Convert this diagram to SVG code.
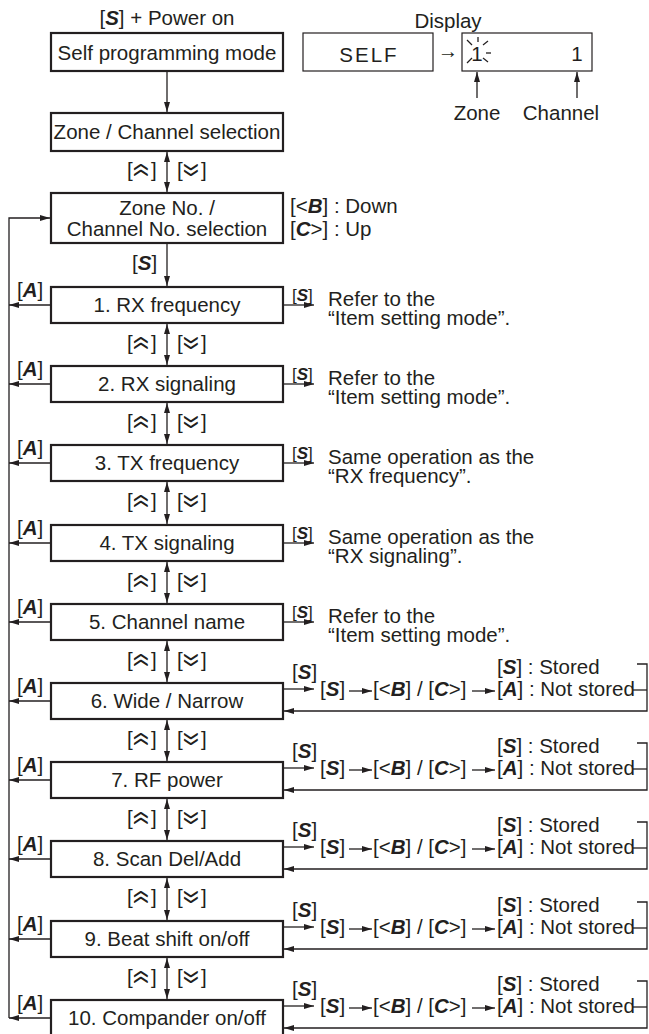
<svg xmlns="http://www.w3.org/2000/svg" width="649" height="1034" viewBox="0 0 649 1034">
<style>
text{font-family:"Liberation Sans",Arial,sans-serif;font-size:20.5px;fill:#231f20}
.c{text-anchor:middle}
.k{font-weight:bold;font-style:italic}
.sm{font-size:17px}
.chv{font-size:28px;text-anchor:middle}
.box{fill:#fff;stroke:#231f20;stroke-width:2.2}
.thin{fill:#fff;stroke:#231f20;stroke-width:1.2}
.ln{fill:none;stroke:#231f20;stroke-width:1.3}
</style>
<defs>
<marker id="ah" markerUnits="userSpaceOnUse" markerWidth="10" markerHeight="6" refX="10" refY="3" orient="auto-start-reverse"><path d="M0,0 L10,3 L0,6 z" fill="#231f20"/></marker>
</defs>

<g id="connectors" class="ln">
<line x1="167" y1="71" x2="167" y2="112" marker-end="url(#ah)"/>
<line x1="167" y1="152" x2="167" y2="192" marker-start="url(#ah)" marker-end="url(#ah)"/>
<line x1="167" y1="243" x2="167" y2="286" marker-end="url(#ah)"/>
<line x1="167" y1="324" x2="167" y2="365" marker-start="url(#ah)" marker-end="url(#ah)"/>
<line x1="167" y1="403" x2="167" y2="444" marker-start="url(#ah)" marker-end="url(#ah)"/>
<line x1="167" y1="482" x2="167" y2="524" marker-start="url(#ah)" marker-end="url(#ah)"/>
<line x1="167" y1="562" x2="167" y2="603" marker-start="url(#ah)" marker-end="url(#ah)"/>
<line x1="167" y1="641" x2="167" y2="682" marker-start="url(#ah)" marker-end="url(#ah)"/>
<line x1="167" y1="720" x2="167" y2="761" marker-start="url(#ah)" marker-end="url(#ah)"/>
<line x1="167" y1="799" x2="167" y2="840" marker-start="url(#ah)" marker-end="url(#ah)"/>
<line x1="167" y1="878" x2="167" y2="920" marker-start="url(#ah)" marker-end="url(#ah)"/>
<line x1="167" y1="958" x2="167" y2="999" marker-start="url(#ah)" marker-end="url(#ah)"/>
<line x1="477" y1="98" x2="477" y2="72" marker-end="url(#ah)"/>
<line x1="577" y1="98" x2="577" y2="72" marker-end="url(#ah)"/>
<path d="M9,1018 V218 H50" marker-end="url(#ah)"/>
<line x1="50" y1="305" x2="9" y2="305" marker-end="url(#ah)"/>
<line x1="50" y1="384" x2="9" y2="384" marker-end="url(#ah)"/>
<line x1="50" y1="463" x2="9" y2="463" marker-end="url(#ah)"/>
<line x1="50" y1="543" x2="9" y2="543" marker-end="url(#ah)"/>
<line x1="50" y1="622" x2="9" y2="622" marker-end="url(#ah)"/>
<line x1="50" y1="701" x2="9" y2="701" marker-end="url(#ah)"/>
<line x1="50" y1="780" x2="9" y2="780" marker-end="url(#ah)"/>
<line x1="50" y1="859" x2="9" y2="859" marker-end="url(#ah)"/>
<line x1="50" y1="939" x2="9" y2="939" marker-end="url(#ah)"/>
<line x1="50" y1="1018" x2="9" y2="1018" marker-end="url(#ah)"/>
<line x1="284" y1="305" x2="314" y2="305" marker-end="url(#ah)"/>
<line x1="284" y1="384" x2="314" y2="384" marker-end="url(#ah)"/>
<line x1="284" y1="463" x2="314" y2="463" marker-end="url(#ah)"/>
<line x1="284" y1="543" x2="314" y2="543" marker-end="url(#ah)"/>
<line x1="284" y1="622" x2="314" y2="622" marker-end="url(#ah)"/>

<line x1="284" y1="689" x2="314" y2="689" marker-end="url(#ah)"/>
<line x1="349" y1="691" x2="372" y2="691" marker-end="url(#ah)"/>
<line x1="472" y1="691" x2="495" y2="691" marker-end="url(#ah)"/>
<path d="M637,664 H647 V711 H284" marker-end="url(#ah)"/>
<line x1="633" y1="690" x2="647" y2="690"/>

<line x1="284" y1="768" x2="314" y2="768" marker-end="url(#ah)"/>
<line x1="349" y1="770" x2="372" y2="770" marker-end="url(#ah)"/>
<line x1="472" y1="770" x2="495" y2="770" marker-end="url(#ah)"/>
<path d="M637,743 H647 V790 H284" marker-end="url(#ah)"/>
<line x1="633" y1="769" x2="647" y2="769"/>

<line x1="284" y1="847" x2="314" y2="847" marker-end="url(#ah)"/>
<line x1="349" y1="849" x2="372" y2="849" marker-end="url(#ah)"/>
<line x1="472" y1="849" x2="495" y2="849" marker-end="url(#ah)"/>
<path d="M637,822 H647 V869 H284" marker-end="url(#ah)"/>
<line x1="633" y1="848" x2="647" y2="848"/>

<line x1="284" y1="927" x2="314" y2="927" marker-end="url(#ah)"/>
<line x1="349" y1="929" x2="372" y2="929" marker-end="url(#ah)"/>
<line x1="472" y1="929" x2="495" y2="929" marker-end="url(#ah)"/>
<path d="M637,902 H647 V949 H284" marker-end="url(#ah)"/>
<line x1="633" y1="928" x2="647" y2="928"/>

<line x1="284" y1="1006" x2="314" y2="1006" marker-end="url(#ah)"/>
<line x1="349" y1="1008" x2="372" y2="1008" marker-end="url(#ah)"/>
<line x1="472" y1="1008" x2="495" y2="1008" marker-end="url(#ah)"/>
<path d="M637,981 H647 V1028 H284" marker-end="url(#ah)"/>
<line x1="633" y1="1007" x2="647" y2="1007"/>
</g>

<g id="labels">
<text x="167" y="25" class="c">[<tspan class="k">S</tspan>] + Power on</text>
<text x="132" y="270">[<tspan class="k">S</tspan>]</text>
<text x="290" y="213">[&lt;<tspan class="k">B</tspan>] : Down</text>
<text x="290" y="236">[<tspan class="k">C</tspan>&gt;] : Up</text>
</g>

<g id="updown">
<text x="127" y="177">[</text><text x="151" y="177">]</text><text class="chv" transform="translate(142,170) rotate(90) scale(0.9,1.25)" dy="0.29em">«</text>
<text x="177" y="177">[</text><text x="201" y="177">]</text><text class="chv" transform="translate(192,170) rotate(90) scale(0.9,1.25)" dy="0.29em">»</text>

<text x="127" y="350">[</text><text x="151" y="350">]</text><text class="chv" transform="translate(142,343) rotate(90) scale(0.9,1.25)" dy="0.29em">«</text>
<text x="177" y="350">[</text><text x="201" y="350">]</text><text class="chv" transform="translate(192,343) rotate(90) scale(0.9,1.25)" dy="0.29em">»</text>

<text x="127" y="429">[</text><text x="151" y="429">]</text><text class="chv" transform="translate(142,422) rotate(90) scale(0.9,1.25)" dy="0.29em">«</text>
<text x="177" y="429">[</text><text x="201" y="429">]</text><text class="chv" transform="translate(192,422) rotate(90) scale(0.9,1.25)" dy="0.29em">»</text>

<text x="127" y="508">[</text><text x="151" y="508">]</text><text class="chv" transform="translate(142,501) rotate(90) scale(0.9,1.25)" dy="0.29em">«</text>
<text x="177" y="508">[</text><text x="201" y="508">]</text><text class="chv" transform="translate(192,501) rotate(90) scale(0.9,1.25)" dy="0.29em">»</text>

<text x="127" y="588">[</text><text x="151" y="588">]</text><text class="chv" transform="translate(142,581) rotate(90) scale(0.9,1.25)" dy="0.29em">«</text>
<text x="177" y="588">[</text><text x="201" y="588">]</text><text class="chv" transform="translate(192,581) rotate(90) scale(0.9,1.25)" dy="0.29em">»</text>

<text x="127" y="667">[</text><text x="151" y="667">]</text><text class="chv" transform="translate(142,660) rotate(90) scale(0.9,1.25)" dy="0.29em">«</text>
<text x="177" y="667">[</text><text x="201" y="667">]</text><text class="chv" transform="translate(192,660) rotate(90) scale(0.9,1.25)" dy="0.29em">»</text>

<text x="127" y="746">[</text><text x="151" y="746">]</text><text class="chv" transform="translate(142,739) rotate(90) scale(0.9,1.25)" dy="0.29em">«</text>
<text x="177" y="746">[</text><text x="201" y="746">]</text><text class="chv" transform="translate(192,739) rotate(90) scale(0.9,1.25)" dy="0.29em">»</text>

<text x="127" y="825">[</text><text x="151" y="825">]</text><text class="chv" transform="translate(142,818) rotate(90) scale(0.9,1.25)" dy="0.29em">«</text>
<text x="177" y="825">[</text><text x="201" y="825">]</text><text class="chv" transform="translate(192,818) rotate(90) scale(0.9,1.25)" dy="0.29em">»</text>

<text x="127" y="904">[</text><text x="151" y="904">]</text><text class="chv" transform="translate(142,897) rotate(90) scale(0.9,1.25)" dy="0.29em">«</text>
<text x="177" y="904">[</text><text x="201" y="904">]</text><text class="chv" transform="translate(192,897) rotate(90) scale(0.9,1.25)" dy="0.29em">»</text>

<text x="127" y="984">[</text><text x="151" y="984">]</text><text class="chv" transform="translate(142,977) rotate(90) scale(0.9,1.25)" dy="0.29em">«</text>
<text x="177" y="984">[</text><text x="201" y="984">]</text><text class="chv" transform="translate(192,977) rotate(90) scale(0.9,1.25)" dy="0.29em">»</text>
</g>

<g id="alabels">
<text x="17" y="297">[<tspan class="k">A</tspan>]</text>
<text x="17" y="376">[<tspan class="k">A</tspan>]</text>
<text x="17" y="455">[<tspan class="k">A</tspan>]</text>
<text x="17" y="535">[<tspan class="k">A</tspan>]</text>
<text x="17" y="614">[<tspan class="k">A</tspan>]</text>
<text x="17" y="693">[<tspan class="k">A</tspan>]</text>
<text x="17" y="772">[<tspan class="k">A</tspan>]</text>
<text x="17" y="851">[<tspan class="k">A</tspan>]</text>
<text x="17" y="931">[<tspan class="k">A</tspan>]</text>
<text x="17" y="1010">[<tspan class="k">A</tspan>]</text>
</g>

<g id="display">
<text x="448" y="28" class="c">Display</text>
<rect class="thin" x="303" y="33" width="130" height="38"/>
<text x="369" y="62" class="c" letter-spacing="2">SELF</text>
<text x="448" y="58" class="c" font-size="22">→</text>
<rect class="thin" x="462" y="33" width="130" height="38"/>
<text x="477" y="61" class="c">1</text>
<g class="ln" stroke-width="1">
<line x1="467" y1="40" x2="472" y2="45"/>
<line x1="478" y1="37" x2="478" y2="42"/>
<line x1="483" y1="45" x2="488" y2="41"/>
<line x1="486" y1="53" x2="491" y2="53"/>
<line x1="467" y1="63" x2="472" y2="58"/>
<line x1="483" y1="58" x2="488" y2="62"/>
</g>
<text x="577" y="61" class="c">1</text>
<text x="477" y="120" class="c">Zone</text>
<text x="561" y="120" class="c">Channel</text>
</g>

<g id="n-self"><rect class="box" x="51" y="33" width="232" height="38"/><text x="167" y="60" class="c">Self programming mode</text></g>
<g id="n-zsel"><rect class="box" x="51" y="113" width="232" height="38"/><text x="167" y="139" class="c">Zone / Channel selection</text></g>
<g id="n-zno"><rect class="box" x="51" y="193" width="232" height="50"/><text x="167" y="215" class="c">Zone No. /</text><text x="167" y="236" class="c">Channel No. selection</text></g>

<g id="n1"><rect class="box" x="51" y="287" width="232" height="36"/><text x="167" y="312" class="c">1. RX frequency</text>
<text x="292" y="301" class="sm">[<tspan class="k">S</tspan>]</text><text x="328" y="306">Refer to the</text><text x="328" y="324.5">“Item setting mode”.</text></g>
<g id="n2"><rect class="box" x="51" y="366" width="232" height="36"/><text x="167" y="391" class="c">2. RX signaling</text>
<text x="292" y="380" class="sm">[<tspan class="k">S</tspan>]</text><text x="328" y="385">Refer to the</text><text x="328" y="403.5">“Item setting mode”.</text></g>
<g id="n3"><rect class="box" x="51" y="445" width="232" height="36"/><text x="167" y="470" class="c">3. TX frequency</text>
<text x="292" y="459" class="sm">[<tspan class="k">S</tspan>]</text><text x="328" y="464">Same operation as the</text><text x="328" y="482.5">“RX frequency”.</text></g>
<g id="n4"><rect class="box" x="51" y="525" width="232" height="36"/><text x="167" y="550" class="c">4. TX signaling</text>
<text x="292" y="539" class="sm">[<tspan class="k">S</tspan>]</text><text x="328" y="544">Same operation as the</text><text x="328" y="562.5">“RX signaling”.</text></g>
<g id="n5"><rect class="box" x="51" y="604" width="232" height="36"/><text x="167" y="629" class="c">5. Channel name</text>
<text x="292" y="618" class="sm">[<tspan class="k">S</tspan>]</text><text x="328" y="623">Refer to the</text><text x="328" y="641.5">“Item setting mode”.</text></g>

<g id="n6"><rect class="box" x="51" y="683" width="232" height="36"/><text x="167" y="708" class="c">6. Wide / Narrow</text>
<text x="292" y="679">[<tspan class="k">S</tspan>]</text><text x="320" y="696">[<tspan class="k">S</tspan>]</text><text x="373" y="696">[&lt;<tspan class="k">B</tspan>] / [<tspan class="k">C</tspan>&gt;]</text><text x="497" y="696">[<tspan class="k">A</tspan>] : Not stored</text><text x="497" y="674">[<tspan class="k">S</tspan>] : Stored</text></g>
<g id="n7"><rect class="box" x="51" y="762" width="232" height="36"/><text x="167" y="787" class="c">7. RF power</text>
<text x="292" y="758">[<tspan class="k">S</tspan>]</text><text x="320" y="775">[<tspan class="k">S</tspan>]</text><text x="373" y="775">[&lt;<tspan class="k">B</tspan>] / [<tspan class="k">C</tspan>&gt;]</text><text x="497" y="775">[<tspan class="k">A</tspan>] : Not stored</text><text x="497" y="753">[<tspan class="k">S</tspan>] : Stored</text></g>
<g id="n8"><rect class="box" x="51" y="841" width="232" height="36"/><text x="167" y="866" class="c">8. Scan Del/Add</text>
<text x="292" y="837">[<tspan class="k">S</tspan>]</text><text x="320" y="854">[<tspan class="k">S</tspan>]</text><text x="373" y="854">[&lt;<tspan class="k">B</tspan>] / [<tspan class="k">C</tspan>&gt;]</text><text x="497" y="854">[<tspan class="k">A</tspan>] : Not stored</text><text x="497" y="832">[<tspan class="k">S</tspan>] : Stored</text></g>
<g id="n9"><rect class="box" x="51" y="921" width="232" height="36"/><text x="167" y="946" class="c">9. Beat shift on/off</text>
<text x="292" y="917">[<tspan class="k">S</tspan>]</text><text x="320" y="934">[<tspan class="k">S</tspan>]</text><text x="373" y="934">[&lt;<tspan class="k">B</tspan>] / [<tspan class="k">C</tspan>&gt;]</text><text x="497" y="934">[<tspan class="k">A</tspan>] : Not stored</text><text x="497" y="912">[<tspan class="k">S</tspan>] : Stored</text></g>
<g id="n10"><rect class="box" x="51" y="1000" width="232" height="40"/><text x="167" y="1025" class="c">10. Compander on/off</text>
<text x="292" y="996">[<tspan class="k">S</tspan>]</text><text x="320" y="1013">[<tspan class="k">S</tspan>]</text><text x="373" y="1013">[&lt;<tspan class="k">B</tspan>] / [<tspan class="k">C</tspan>&gt;]</text><text x="497" y="1013">[<tspan class="k">A</tspan>] : Not stored</text><text x="497" y="991">[<tspan class="k">S</tspan>] : Stored</text></g>
</svg>
